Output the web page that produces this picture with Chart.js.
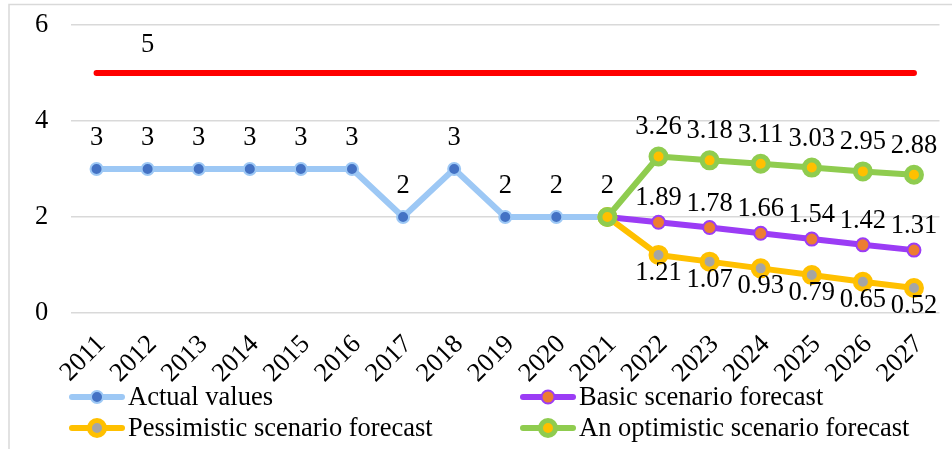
<!DOCTYPE html>
<html>
<head>
<meta charset="utf-8">
<script src="https://cdn.jsdelivr.net/npm/chart.js@4.4.1/dist/chart.umd.min.js"></script>
<style>
  html, body { margin: 0; padding: 0; background: #fff; }
  canvas { display: block; }
</style>
</head>
<body>
<canvas id="chart" width="952" height="449"></canvas>
<script>
const years = ['2011', '2012', '2013', '2014', '2015', '2016', '2017', '2018', '2019',
  '2020', '2021', '2022', '2023', '2024', '2025', '2026', '2027'];
const actualValues = [3, 3, 3, 3, 3, 3, 2, 3, 2, 2, 2, null, null, null, null, null, null];
const basicForecast = [null, null, null, null, null, null, null, null, null, null, 2, 1.89, 1.78, 1.66, 1.54, 1.42, 1.31];
const pessimisticForecast = [null, null, null, null, null, null, null, null, null, null, 2, 1.21, 1.07, 0.93, 0.79, 0.65, 0.52];
const optimisticForecast = [null, null, null, null, null, null, null, null, null, null, 2, 3.26, 3.18, 3.11, 3.03, 2.95, 2.88];
const targetLevel = [5, 5, 5, 5, 5, 5, 5, 5, 5, 5, 5, 5, 5, 5, 5, 5, 5];
const seriesNames = ['Actual values', 'Basic scenario forecast', 'Pessimistic scenario forecast', 'An optimistic scenario forecast'];
const yMin = 0, yMax = 6, yStep = 2;

const FONT = '"Liberation Serif", "Times New Roman", serif';
const FONT_SIZE = 26.5;
const forecastLabels = [11, 12, 13, 14, 15, 16];

// light grey frame, the picture is cut at right and bottom
const frame = {
  id: 'frame',
  beforeDraw(chart) {
    const ctx = chart.ctx;
    ctx.save();
    ctx.fillStyle = '#fff';
    ctx.fillRect(0, 0, chart.width, chart.height);
    ctx.strokeStyle = '#d9d9d9';
    ctx.lineWidth = 1.5;
    ctx.beginPath();
    ctx.moveTo(9, chart.height);
    ctx.lineTo(9, 4.5);
    ctx.lineTo(chart.width, 4.5);
    ctx.stroke();
    ctx.restore();
  }
};

// value labels next to the points
const valueLabels = {
  id: 'valueLabels',
  afterDatasetsDraw(chart) {
    const ctx = chart.ctx;
    ctx.save();
    ctx.font = FONT_SIZE + 'px ' + FONT;
    ctx.fillStyle = '#000';
    ctx.textAlign = 'center';
    ctx.textBaseline = 'middle';
    chart.data.datasets.forEach((ds, i) => {
      const meta = chart.getDatasetMeta(i);
      meta.data.forEach((pt, j) => {
        const v = ds.data[j];
        if (v == null) return;
        if (ds.labelAt && !ds.labelAt.includes(j)) return;
        ctx.fillText(String(v), pt.x, pt.y + ds.labelDy);
      });
    });
    ctx.restore();
  }
};

// two column legend under the axis
const gridLegend = {
  id: 'gridLegend',
  afterDraw(chart) {
    const ctx = chart.ctx;
    const cols = [69, 520];
    const rows = [397, 428];
    ctx.save();
    ctx.font = FONT_SIZE + 'px ' + FONT;
    ctx.textBaseline = 'middle';
    ctx.textAlign = 'left';
    seriesNames.forEach((name, i) => {
      const ds = chart.data.datasets[i];
      const x = cols[i % 2], y = rows[Math.floor(i / 2)];
      ctx.strokeStyle = ds.borderColor;
      ctx.lineWidth = ds.borderWidth;
      ctx.lineCap = 'round';
      ctx.beginPath();
      ctx.moveTo(x + 3, y);
      ctx.lineTo(x + 53, y);
      ctx.stroke();
      ctx.beginPath();
      ctx.arc(x + 28, y, ds.pointRadius, 0, Math.PI * 2);
      ctx.fillStyle = ds.pointBackgroundColor;
      ctx.fill();
      ctx.lineWidth = ds.pointBorderWidth;
      ctx.strokeStyle = ds.pointBorderColor;
      ctx.stroke();
      ctx.fillStyle = '#000';
      ctx.fillText(name, x + 59, y + 1);
    });
    ctx.restore();
  }
};

const lineBase = { borderWidth: 6, borderCapStyle: 'round', borderJoinStyle: 'round', spanGaps: false, tension: 0 };

new Chart(document.getElementById('chart'), {
  type: 'line',
  data: {
    labels: years,
    datasets: [
      Object.assign({}, lineBase, {
        label: seriesNames[0], data: actualValues, order: 4,
        borderColor: '#9dc8f5', pointBackgroundColor: '#4472c4', pointBorderColor: '#9dc8f5',
        pointRadius: 6, pointBorderWidth: 2, labelDy: -31
      }),
      Object.assign({}, lineBase, {
        label: seriesNames[1], data: basicForecast, order: 3,
        borderColor: '#9b3cf5', pointBackgroundColor: '#ed7d31', pointBorderColor: '#9b3cf5',
        pointRadius: 6.5, pointBorderWidth: 2, labelDy: -24, labelAt: forecastLabels
      }),
      Object.assign({}, lineBase, {
        label: seriesNames[2], data: pessimisticForecast, order: 2,
        borderColor: '#ffc000', pointBackgroundColor: '#a5a5a5', pointBorderColor: '#ffc000',
        pointRadius: 7.5, pointBorderWidth: 5, labelDy: 18, labelAt: forecastLabels
      }),
      Object.assign({}, lineBase, {
        label: seriesNames[3], data: optimisticForecast, order: 1,
        borderColor: '#8fcc4f', pointBackgroundColor: '#ffc000', pointBorderColor: '#8fcc4f',
        pointRadius: 7.5, pointBorderWidth: 5, labelDy: -29, labelAt: forecastLabels
      }),
      Object.assign({}, lineBase, {
        label: 'Level', data: targetLevel, order: 5,
        borderColor: '#ff0000', pointRadius: 0, pointHoverRadius: 0, labelDy: -28, labelAt: [1]
      })
    ]
  },
  options: {
    responsive: false,
    animation: false,
    devicePixelRatio: 1,
    layout: { padding: { left: 35, top: 25, right: 0, bottom: 0 } },
    plugins: { legend: { display: false }, tooltip: { enabled: false } },
    scales: {
      x: {
        offset: true,
        grid: { display: false },
        border: { display: false },
        ticks: {
          autoSkip: false, minRotation: 45, maxRotation: 45, padding: 8, labelOffset: 5,
          color: '#000', font: { family: FONT, size: FONT_SIZE }
        },
        afterFit(scale) { scale.height = 449 - 313; }
      },
      y: {
        min: yMin, max: yMax,
        grid: { color: '#d9d9d9', lineWidth: 1.5, drawTicks: false },
        border: { display: false },
        ticks: {
          stepSize: yStep, padding: 0, crossAlign: 'far',
          color: '#000', font: { family: FONT, size: FONT_SIZE }
        },
        afterFit(scale) { scale.width = 36; }
      }
    }
  },
  plugins: [frame, valueLabels, gridLegend]
});
</script>
</body>
</html>
